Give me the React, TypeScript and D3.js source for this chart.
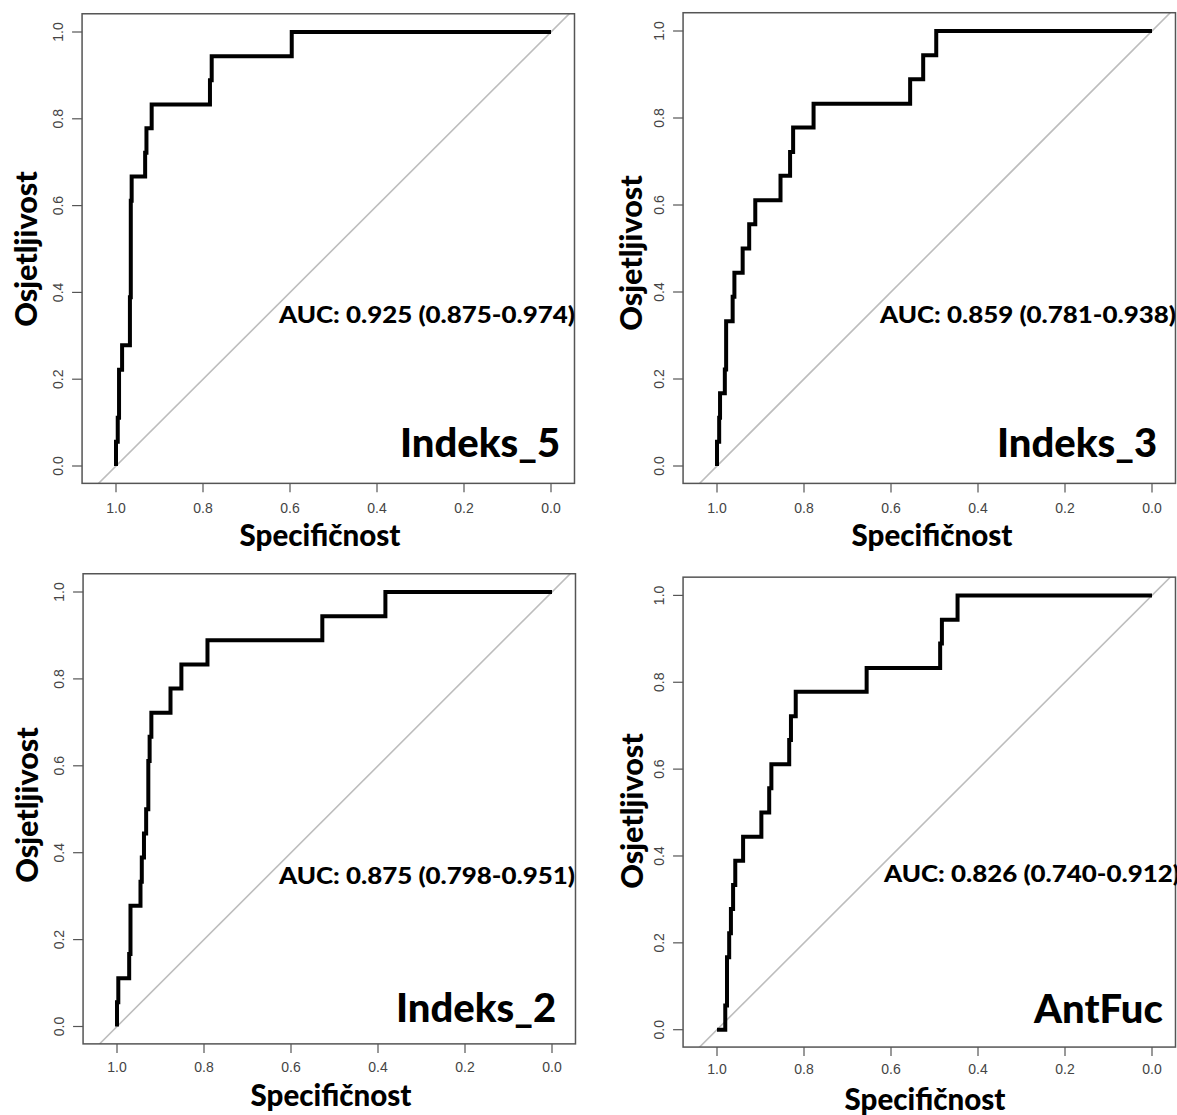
import React from 'react';
import * as d3 from 'd3';

// ---- data ----
const tickValues = [0, 0.2, 0.4, 0.6, 0.8, 1.0];
const panelNames = ['Indeks_5', 'Indeks_3', 'Indeks_2', 'AntFuc'];
const aucLabels = [
  'AUC: 0.925 (0.875-0.974)',
  'AUC: 0.859 (0.781-0.938)',
  'AUC: 0.875 (0.798-0.951)',
  'AUC: 0.826 (0.740-0.912)',
];
const xTitle = 'Specifičnost';
const yTitle = 'Osjetljivost';

const indeks5Spec = [1.0, 1.0, 0.996, 0.996, 0.993, 0.993, 0.986, 0.986, 0.968, 0.968, 0.966, 0.966, 0.964, 0.964, 0.933, 0.933, 0.930, 0.930, 0.918, 0.918, 0.784, 0.784, 0.780, 0.780, 0.596, 0.596, 0.0];
const indeks5Sens = [0.0, 0.056, 0.056, 0.111, 0.111, 0.222, 0.222, 0.278, 0.278, 0.389, 0.389, 0.611, 0.611, 0.667, 0.667, 0.722, 0.722, 0.778, 0.778, 0.833, 0.833, 0.889, 0.889, 0.944, 0.944, 1.0, 1.0];

const indeks3Spec = [1.0, 1.0, 0.995, 0.995, 0.993, 0.993, 0.982, 0.982, 0.979, 0.979, 0.964, 0.964, 0.960, 0.960, 0.941, 0.941, 0.926, 0.926, 0.912, 0.912, 0.854, 0.854, 0.832, 0.832, 0.825, 0.825, 0.778, 0.778, 0.556, 0.556, 0.526, 0.526, 0.496, 0.496, 0.0];
const indeks3Sens = [0.0, 0.056, 0.056, 0.111, 0.111, 0.167, 0.167, 0.222, 0.222, 0.333, 0.333, 0.389, 0.389, 0.444, 0.444, 0.5, 0.5, 0.556, 0.556, 0.611, 0.611, 0.667, 0.667, 0.722, 0.722, 0.778, 0.778, 0.833, 0.833, 0.889, 0.889, 0.944, 0.944, 1.0, 1.0];

const indeks2Spec = [1.0, 1.0, 0.997, 0.997, 0.972, 0.972, 0.969, 0.969, 0.946, 0.946, 0.943, 0.943, 0.938, 0.938, 0.933, 0.933, 0.928, 0.928, 0.925, 0.925, 0.921, 0.921, 0.877, 0.877, 0.852, 0.852, 0.792, 0.792, 0.528, 0.528, 0.383, 0.383, 0.0];
const indeks2Sens = [0.0, 0.056, 0.056, 0.111, 0.111, 0.167, 0.167, 0.278, 0.278, 0.333, 0.333, 0.389, 0.389, 0.444, 0.444, 0.5, 0.5, 0.611, 0.611, 0.667, 0.667, 0.722, 0.722, 0.778, 0.778, 0.833, 0.833, 0.889, 0.889, 0.944, 0.944, 1.0, 1.0];

const antFucSpec = [1.0, 0.981, 0.981, 0.977, 0.977, 0.972, 0.972, 0.968, 0.968, 0.963, 0.963, 0.958, 0.958, 0.940, 0.940, 0.898, 0.898, 0.880, 0.880, 0.875, 0.875, 0.834, 0.834, 0.830, 0.830, 0.819, 0.819, 0.656, 0.656, 0.487, 0.487, 0.483, 0.483, 0.447, 0.447, 0.0];
const antFucSens = [0.0, 0.0, 0.056, 0.056, 0.167, 0.167, 0.222, 0.222, 0.278, 0.278, 0.333, 0.333, 0.389, 0.389, 0.444, 0.444, 0.5, 0.5, 0.556, 0.556, 0.611, 0.611, 0.667, 0.667, 0.722, 0.722, 0.778, 0.778, 0.833, 0.833, 0.889, 0.889, 0.944, 0.944, 1.0, 1.0];

const specSeries = [indeks5Spec, indeks3Spec, indeks2Spec, antFucSpec];
const sensSeries = [indeks5Sens, indeks3Sens, indeks2Sens, antFucSens];

// ---- layout (pixels) ----
const layouts = [
  { xr: [116, 551], yr: [466, 32], tickOff: 30, aucX: 279, aucY: 323, nameX: 400, nameY: 457, ytX: 37, ytY: 249, xtX: 320, xtY: 546 },
  { xr: [717, 1152], yr: [466, 31], tickOff: 30, aucX: 880, aucY: 323, nameX: 997, nameY: 457, ytX: 642, ytY: 253, xtX: 932, xtY: 546 },
  { xr: [117, 552], yr: [1026.5, 592], tickOff: 28, aucX: 279, aucY: 884, nameX: 396, nameY: 1022, ytX: 38, ytY: 805, xtX: 331, xtY: 1106 },
  { xr: [717, 1152], yr: [1029.7, 595.4], tickOff: 27, aucX: 884, aucY: 882, nameX: 1034, nameY: 1023, ytX: 643, ytY: 811, xtX: 925, xtY: 1110 },
];

const titleFont = 'Lato, "Open Sans", sans-serif';
const tickFont = '"Liberation Sans", Arial, sans-serif';

function Panel({ i }: { i: number }) {
  const L = layouts[i];
  const x = d3.scaleLinear().domain([1, 0]).range(L.xr);
  const y = d3.scaleLinear().domain([0, 1]).range(L.yr);
  const bx0 = x(1.078), bx1 = x(-0.054), by0 = y(-0.04), by1 = y(1.042);
  const pts = specSeries[i].map((s, k) => [s, sensSeries[i][k]] as [number, number]);
  const line = d3.line<[number, number]>().x(d => x(d[0])).y(d => y(d[1]));
  const diag = line([[1.06, -0.06], [-0.06, 1.06]]) || '';
  const clipId = `clip${i}`;
  return (
    <g>
      <defs>
        <clipPath id={clipId}>
          <rect x={bx0} y={by1} width={bx1 - bx0} height={by0 - by1} />
        </clipPath>
      </defs>
      <path d={diag} stroke="#bdbdbd" strokeWidth={1.6} fill="none" clipPath={`url(#${clipId})`} />
      <path d={line(pts) || ''} stroke="#000" strokeWidth={4} fill="none" strokeLinejoin="miter" strokeLinecap="butt" />
      <rect x={bx0} y={by1} width={bx1 - bx0} height={by0 - by1} fill="none" stroke="#555" strokeWidth={1.5} />
      {tickValues.map(t => (
        <g key={'x' + t}>
          <line x1={x(t)} x2={x(t)} y1={by0} y2={by0 + 9} stroke="#555" strokeWidth={1.2} />
          <text x={x(t)} y={by0 + L.tickOff} textAnchor="middle" fontFamily={tickFont} fontSize={14} fill="#444">{t.toFixed(1)}</text>
        </g>
      ))}
      {tickValues.map(t => (
        <g key={'y' + t}>
          <line x1={bx0} x2={bx0 - 10} y1={y(t)} y2={y(t)} stroke="#555" strokeWidth={1.2} />
          <text transform={`translate(${bx0 - 19},${y(t)}) rotate(-90)`} textAnchor="middle" fontFamily={tickFont} fontSize={14} fill="#444">{t.toFixed(1)}</text>
        </g>
      ))}
      <text x={L.aucX} y={L.aucY} fontFamily={titleFont} fontWeight={900} fontSize={22.5} textLength={296} lengthAdjust="spacingAndGlyphs" fill="#000">{aucLabels[i]}</text>
      <text x={L.nameX} y={L.nameY} fontFamily={titleFont} fontWeight={900} fontSize={40} fill="#000">{panelNames[i]}</text>
      <text x={L.xtX} y={L.xtY} textAnchor="middle" fontFamily={titleFont} fontWeight={900} fontSize={29.5} fill="#000">{xTitle}</text>
      <text transform={`translate(${L.ytX},${L.ytY}) rotate(-90)`} textAnchor="middle" fontFamily={titleFont} fontWeight={900} fontSize={30.5} fill="#000">{yTitle}</text>
    </g>
  );
}

export default function App() {
  return (
    <svg width={1177} height={1115} style={{ position: 'absolute', left: 0, top: 0, background: '#fff' }}>
      <rect width={1177} height={1115} fill="#fff" />
      {[0, 1, 2, 3].map(i => <Panel key={i} i={i} />)}
    </svg>
  );
}
